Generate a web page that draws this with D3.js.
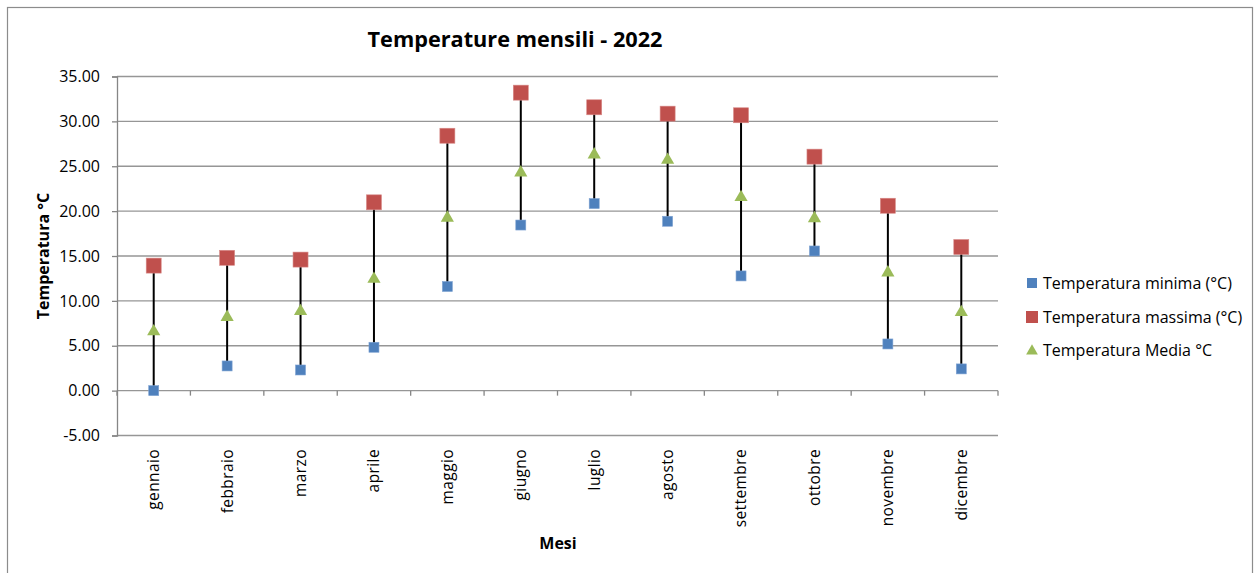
<!DOCTYPE html>
<html>
<head>
<meta charset="utf-8">
<script src="https://cdn.jsdelivr.net/npm/d3@7"></script>
<style>
  body { margin: 0; background: #fff; }
  text { font-family: "Open Sans", sans-serif; fill: #000; }
</style>
</head>
<body>
<script>
// data
var months = ["gennaio", "febbraio", "marzo", "aprile", "maggio", "giugno",
  "luglio", "agosto", "settembre", "ottobre", "novembre", "dicembre"];
var tempMin = [0.0, 2.75, 2.3, 4.83, 11.6, 18.45, 20.84, 18.87, 12.78, 15.56, 5.2, 2.42];
var tempMax = [13.93, 14.8, 14.6, 20.98, 28.4, 33.2, 31.57, 30.86, 30.68, 26.07, 20.6, 16.0];
var tempMedia = [6.7, 8.3, 8.95, 12.55, 19.35, 24.4, 26.4, 25.8, 21.65, 19.3, 13.26, 8.84];
var yTicks = [-5, 0, 5, 10, 15, 20, 25, 30, 35];
var seriesNames = ["Temperatura minima (°C)", "Temperatura massima (°C)", "Temperatura Media °C"];

var svgWidth = 1258;
var svgHeight = 573;

// plot area
var plot = { left: 117, right: 998, top: 76.5, bottom: 435.5 };

var svg = d3.select("body")
  .append("svg")
  .attr("width", svgWidth)
  .attr("height", svgHeight);

// outer frame
svg.append("rect")
  .attr("x", 7.5)
  .attr("y", 7.5)
  .attr("width", 1245)
  .attr("height", 620)
  .attr("fill", "none")
  .attr("stroke", "#8c8c8c")
  .attr("stroke-width", 1.2);

var yScale = d3.scaleLinear()
  .domain([-5, 35])
  .range([plot.bottom, plot.top]);

var xScale = d3.scaleBand()
  .domain(months)
  .range([plot.left, plot.right])
  .padding(0);

var xCenter = function(m) { return xScale(m) + xScale.bandwidth() / 2; };

// gridlines
svg.append("g")
  .selectAll("line")
  .data(yTicks)
  .join("line")
  .attr("x1", plot.left)
  .attr("x2", plot.right)
  .attr("y1", function(d) { return yScale(d); })
  .attr("y2", function(d) { return yScale(d); })
  .attr("stroke", "#969696")
  .attr("stroke-width", 1.3);

// y axis (plain hyphen for negatives, like the original)
var fmt = d3.format(".2f");
var yAxis = d3.axisLeft(yScale)
  .tickValues(yTicks)
  .tickFormat(function(d) { return fmt(d).replace("\u2212", "-"); })
  .tickSize(5)
  .tickPadding(12);

var yAxisG = svg.append("g")
  .attr("transform", `translate(${plot.left}, 0)`)
  .call(yAxis);
yAxisG.select(".domain").attr("stroke", "#868686").attr("stroke-width", 1.3);
yAxisG.selectAll(".tick line").attr("stroke", "#868686").attr("stroke-width", 1.3);
yAxisG.selectAll(".tick text")
  .style("font-family", "'Open Sans', sans-serif")
  .style("font-size", "16px")
  .attr("fill", "#000");

// x axis on the zero line, ticks between categories
var boundaries = months.map(function(m) { return xScale(m); }).concat([plot.right]);
svg.append("g")
  .selectAll("line")
  .data(boundaries)
  .join("line")
  .attr("x1", function(d) { return d; })
  .attr("x2", function(d) { return d; })
  .attr("y1", yScale(0))
  .attr("y2", yScale(0) + 5)
  .attr("stroke", "#868686")
  .attr("stroke-width", 1.3);

// category labels, rotated
svg.append("g")
  .selectAll("text")
  .data(months)
  .join("text")
  .attr("transform", function(d) { return `translate(${xCenter(d)}, 449) rotate(-90)`; })
  .attr("text-anchor", "end")
  .attr("dy", "0.35em")
  .style("font-size", "15.5px")
  .style("letter-spacing", "0.4px")
  .text(function(d) { return d; });

// high-low lines
svg.append("g")
  .selectAll("line")
  .data(months)
  .join("line")
  .attr("x1", function(d) { return xCenter(d); })
  .attr("x2", function(d) { return xCenter(d); })
  .attr("y1", function(d, i) { return yScale(tempMin[i]); })
  .attr("y2", function(d, i) { return yScale(tempMax[i]); })
  .attr("stroke", "#000")
  .attr("stroke-width", 2);

// markers
var colorMin = "#4f81bd", colorMax = "#c0504d", colorMedia = "#9bbb59";
var triangle = d3.symbol().type(d3.symbolTriangle).size(75);

svg.append("g")
  .selectAll("rect")
  .data(months)
  .join("rect")
  .attr("x", function(d) { return xCenter(d) - 5; })
  .attr("y", function(d, i) { return yScale(tempMin[i]) - 5; })
  .attr("width", 10)
  .attr("height", 10)
  .attr("fill", colorMin)
  .attr("stroke", "#7fa3d3")
  .attr("stroke-width", 0.6);

svg.append("g")
  .selectAll("rect")
  .data(months)
  .join("rect")
  .attr("x", function(d) { return xCenter(d) - 7.5; })
  .attr("y", function(d, i) { return yScale(tempMax[i]) - 7.5; })
  .attr("width", 15)
  .attr("height", 15)
  .attr("fill", colorMax)
  .attr("stroke", "#d88a88")
  .attr("stroke-width", 0.6);

svg.append("g")
  .selectAll("path")
  .data(months)
  .join("path")
  .attr("d", triangle)
  .attr("transform", function(d, i) { return `translate(${xCenter(d)}, ${yScale(tempMedia[i]) + 1})`; })
  .attr("fill", colorMedia);

// titles
svg.append("text")
  .attr("x", 515)
  .attr("y", 39)
  .attr("text-anchor", "middle")
  .attr("dy", "0.35em")
  .style("font-size", "21.7px")
  .style("font-weight", "bold")
  .text("Temperature mensili - 2022");

svg.append("text")
  .attr("transform", "translate(43, 256) rotate(-90)")
  .attr("text-anchor", "middle")
  .attr("dy", "0.35em")
  .style("font-size", "16px")
  .style("font-weight", "bold")
  .text("Temperatura °C");

svg.append("text")
  .attr("x", 558)
  .attr("y", 543)
  .attr("text-anchor", "middle")
  .attr("dy", "0.35em")
  .style("font-size", "16px")
  .style("font-weight", "bold")
  .text("Mesi");

// legend
var legendRows = [283, 317, 350];
var legend = svg.append("g");
legend.append("rect")
  .attr("x", 1027).attr("y", legendRows[0] - 5)
  .attr("width", 10).attr("height", 10)
  .attr("fill", colorMin);
legend.append("rect")
  .attr("x", 1026).attr("y", legendRows[1] - 6)
  .attr("width", 12).attr("height", 12)
  .attr("fill", colorMax);
legend.append("path")
  .attr("d", d3.symbol().type(d3.symbolTriangle).size(60))
  .attr("transform", `translate(1032, ${legendRows[2] + 1})`)
  .attr("fill", colorMedia);
legend.selectAll("text")
  .data(seriesNames)
  .join("text")
  .attr("x", 1043)
  .attr("y", function(d, i) { return legendRows[i]; })
  .attr("dy", "0.35em")
  .style("font-size", "16px")
  .text(function(d) { return d; });
</script>
</body>
</html>
